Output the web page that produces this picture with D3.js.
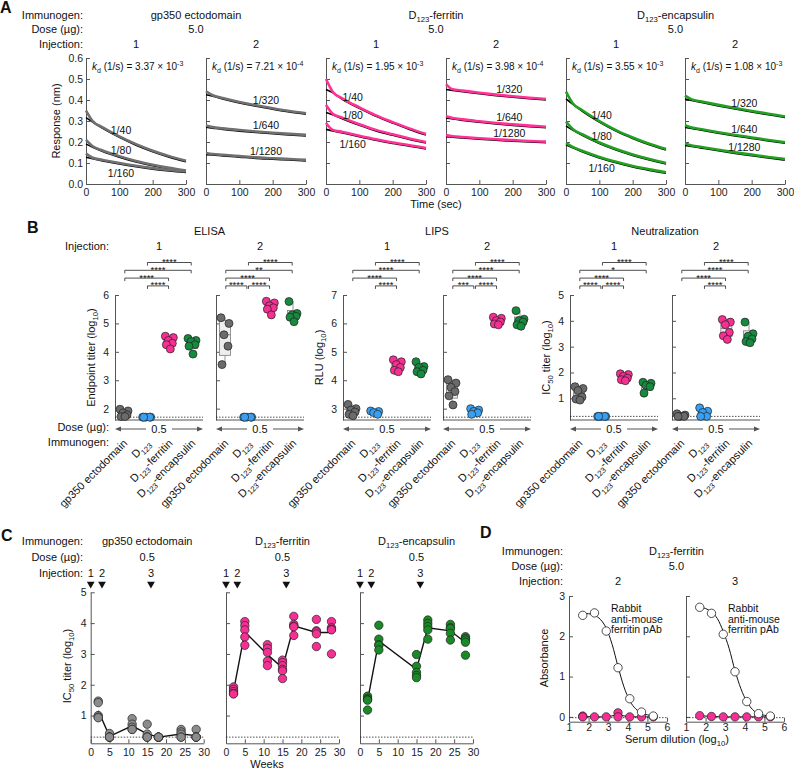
<!DOCTYPE html>
<html>
<head>
<meta charset="utf-8">
<script src="https://cdn.jsdelivr.net/npm/d3@7"></script>
<style>
  body { margin: 0; background: #fff; }
</style>
</head>
<body>
<div id="viz-container"></div>
<script>
// ---------- data: panel A (BLI dissociation traces) ----------
const aTimes = [0, 20, 50, 100, 150, 200, 250, 300];
const aImmunogens = ["gp350 ectodomain", "D_{123}-ferritin", "D_{123}-encapsulin"];
const aDoses = ["5.0", "5.0", "5.0"];
const aInjections = ["1", "2", "1", "2", "1", "2"];
const aKdValue = [3.37, 7.21, 1.95, 3.98, 3.55, 1.08];
const aKdExp = [-3, -4, -3, -4, -3, -3];
const aDilutions = [
  ["1/40", "1/80", "1/160"], ["1/320", "1/640", "1/1280"],
  ["1/40", "1/80", "1/160"], ["1/320", "1/640", "1/1280"],
  ["1/40", "1/80", "1/160"], ["1/320", "1/640", "1/1280"]
];
// fitted response (nm) at aTimes
const aFits = [
  [[0.316, 0.295, 0.265, 0.222, 0.185, 0.154, 0.128, 0.106],
   [0.190, 0.175, 0.155, 0.128, 0.105, 0.087, 0.072, 0.059],
   [0.127, 0.120, 0.110, 0.095, 0.082, 0.071, 0.062, 0.055]],
  [[0.425, 0.418, 0.405, 0.386, 0.370, 0.356, 0.343, 0.332],
   [0.270, 0.266, 0.260, 0.252, 0.245, 0.239, 0.234, 0.229],
   [0.140, 0.138, 0.134, 0.128, 0.122, 0.118, 0.114, 0.110]],
  [[0.450, 0.435, 0.402, 0.360, 0.322, 0.290, 0.260, 0.233],
   [0.340, 0.330, 0.310, 0.280, 0.253, 0.232, 0.212, 0.195],
   [0.260, 0.253, 0.243, 0.225, 0.208, 0.193, 0.180, 0.167]],
  [[0.450, 0.446, 0.440, 0.430, 0.421, 0.413, 0.406, 0.400],
   [0.313, 0.310, 0.303, 0.294, 0.286, 0.279, 0.273, 0.268],
   [0.225, 0.223, 0.219, 0.213, 0.208, 0.204, 0.200, 0.197]],
  [[0.406, 0.380, 0.345, 0.295, 0.252, 0.217, 0.187, 0.162],
   [0.276, 0.257, 0.231, 0.193, 0.162, 0.136, 0.114, 0.095],
   [0.186, 0.172, 0.152, 0.124, 0.101, 0.081, 0.065, 0.051]],
  [[0.405, 0.398, 0.388, 0.372, 0.357, 0.343, 0.330, 0.317],
   [0.270, 0.264, 0.256, 0.242, 0.229, 0.217, 0.205, 0.194],
   [0.184, 0.179, 0.171, 0.158, 0.146, 0.135, 0.124, 0.114]]
];
// measured trace value at t = 0 (the small spike above the fit)
const aSpikes = [[0.345, 0.205, 0.140], [0.437, 0.274, 0.143], [0.495, 0.371, 0.286],
                 [0.471, 0.318, 0.228], [0.435, 0.292, 0.190], [0.416, 0.275, 0.188]];
const aLabelT = [105, 180, 80, 190, 107, 178];

// ---------- data: panel B (ELISA / LIPS / neutralization) ----------
const bAssays = ["ELISA", "LIPS", "Neutralization"];
const bGroups = ["gp350 ectodomain", "D_{123}", "D_{123}-ferritin", "D_{123}-encapsulin"];
const bInjections = ["1", "2", "1", "2", "1", "2"];
const elisa1 = [[1.98, 1.92, 1.85, 1.78, 1.72, 1.72], [1.7, 1.7, 1.7, 1.7, 1.7],
                [4.55, 4.5, 4.4, 4.3, 4.25, 4.1], [4.47, 4.4, 4.36, 4.25, 4.2, 3.92]];
const elisa2 = [[5.2, 5.0, 4.6, 4.2, 3.55], [1.7, 1.7, 1.7, 1.7, 1.7],
                [5.78, 5.72, 5.62, 5.55, 5.5, 5.3], [5.77, 5.35, 5.3, 5.25, 5.22, 5.06]];
const lips1 = [[3.15, 3.0, 2.95, 2.88, 2.8, 2.75], [2.92, 2.9, 2.86, 2.8],
               [4.72, 4.65, 4.55, 4.45, 4.35, 4.3], [4.65, 4.48, 4.45, 4.35, 4.3, 4.22]];
const lips2 = [[4.02, 3.9, 3.75, 3.6, 3.45, 3.13], [3.0, 2.95, 2.9, 2.85, 2.8],
               [6.22, 6.18, 6.1, 6.05, 5.98, 5.95], [6.45, 6.15, 6.1, 6.05, 5.95, 5.9]];
const neut1 = [[1.45, 1.38, 1.3, 1.05, 0.97, 0.93], [0.3, 0.3, 0.3, 0.3, 0.3],
               [1.95, 1.92, 1.85, 1.78, 1.72, 1.68], [1.62, 1.58, 1.5, 1.45, 1.2]];
const neut2 = [[0.4, 0.35, 0.3, 0.3, 0.3], [0.63, 0.5, 0.45, 0.3, 0.3],
               [4.05, 3.95, 3.85, 3.55, 3.42, 3.28], [3.95, 3.5, 3.4, 3.3, 3.2, 3.15]];
const bDomains = [[1.6, 6], [2.6, 7], [0.16, 5]];
const bTicks = [[2, 3, 4, 5, 6], [3, 4, 5, 6, 7], [1, 2, 3, 4, 5]];
const bLod = [1.7, 2.7, 0.3];
const bYTitles = ["Endpoint titer (log_{10})", "RLU (log_{10})", "IC_{50} titer (log_{10})"];
// [row, group from, group to, stars]; row 0 is the top row
const bStats = [
  [[0, 1, 3, "****"], [1, 0, 3, "****"], [2, 0, 2, "****"], [3, 1, 2, "****"]],
  [[0, 1, 3, "****"], [1, 0, 3, "**"], [2, 0, 2, "****"], [3, 0, 1, "****"], [3, 1, 2, "****"]],
  [[0, 1, 3, "****"], [1, 0, 3, "****"], [2, 0, 2, "****"], [3, 1, 2, "****"]],
  [[0, 1, 3, "****"], [1, 0, 3, "****"], [2, 0, 2, "****"], [3, 0, 1, "***"], [3, 1, 2, "****"]],
  [[0, 1, 3, "****"], [1, 0, 3, "*"], [2, 0, 2, "****"], [3, 0, 1, "****"], [3, 1, 2, "****"]],
  [[0, 1, 3, "****"], [1, 0, 3, "****"], [2, 0, 2, "****"], [3, 1, 2, "****"]]
];

// ---------- data: panel C (neutralization over time) ----------
const cImmunogens = ["gp350 ectodomain", "D_{123}-ferritin", "D_{123}-encapsulin"];
const cWeeks = [2, 5, 11, 15, 18, 24, 28];
const cInjWeeks = [0, 3, 16];
const cGp350 = [[1.47, 1.42, 1.0, 0.95, 0.93], [0.42, 0.3, 0.3, 0.3, 0.3],
                [0.9, 0.72, 0.62, 0.55, 0.55], [0.72, 0.4, 0.3, 0.3, 0.3],
                [0.3, 0.3, 0.3, 0.3, 0.3], [0.55, 0.47, 0.4, 0.3, 0.3],
                [0.55, 0.3, 0.3, 0.3, 0.3]];
const cFerritin = [[1.93, 1.85, 1.78, 1.72, 1.7], [4.05, 3.92, 3.78, 3.55, 3.28],
                   [3.3, 3.18, 3.05, 2.77, 2.62], [2.8, 2.72, 2.62, 2.5, 2.45, 2.2],
                   [4.22, 3.96, 3.9, 3.88, 3.6], [4.12, 3.75, 3.72, 3.65, 3.24],
                   [4.05, 3.85, 3.8, 3.78, 3.0]];
const cEncapsulin = [[1.63, 1.56, 1.52, 1.5, 1.18], [3.93, 3.48, 3.3, 3.28, 3.13],
                     [], [2.98, 2.6, 2.4, 2.3, 2.23],
                     [4.1, 3.99, 3.89, 3.78, 3.48], [3.96, 3.85, 3.82, 3.67, 3.45],
                     [3.56, 3.5, 3.45, 3.38, 2.96]];

// ---------- data: panel D (anti-ferritin ELISA) ----------
const dInjections = ["2", "3"];
const dDilution = [1.7, 2.3, 2.9, 3.5, 4.1, 4.7, 5.3];
const dRabbit2 = [2.52, 2.58, 2.13, 1.22, 0.45, 0.12, 0.02];
const dRabbit3 = [2.72, 2.57, 2.05, 1.12, 0.38, 0.08, 0.02];
const dFitX = [1.7, 2.0, 2.3, 2.6, 2.9, 3.2, 3.5, 3.8, 4.1, 4.4, 4.7, 5.0, 5.3];
const dFit2 = [2.57, 2.56, 2.52, 2.42, 2.2, 1.8, 1.25, 0.75, 0.4, 0.2, 0.1, 0.05, 0.02];
const dFit3 = [2.72, 2.69, 2.6, 2.44, 2.12, 1.7, 1.15, 0.7, 0.38, 0.18, 0.08, 0.04, 0.01];
const dMouse2 = [[0.02, 0.0], [0.0], [0.0], [0.1, 0.0], [0.0], [0.0], [0.0]];
const dMouse3 = [[0.03], [0.01], [0.0], [0.0], [0.0], [0.0], [0.0]];

// ---------- drawing ----------
const FONT = '"Liberation Sans", Arial, Helvetica, sans-serif';
const AXIS = "#555";
const immColors = ["#707070", "#ff3096", "#22a022"];
const bColors = ["#6b6b6b", "#3a9ff0", "#f62f93", "#168a3e"];
const cColors = ["#8c8c8c", "#f52f93", "#198a25"];

const svg = d3.select("#viz-container").append("svg")
  .attr("width", 794).attr("height", 771)
  .attr("font-family", FONT);

// text with _{sub}, ^{sup}, ~{italic}
function rich(t, str, fs) {
  const parts = str.split(/([_^~]\{[^}]*\})/).filter(s => s.length);
  let shift = 0;
  parts.forEach(p => {
    let target = 0, s = p, size = fs, italic = false;
    if (p.startsWith("_{")) { target = fs * 0.3; s = p.slice(2, -1); size = fs * 0.7; }
    else if (p.startsWith("^{")) { target = -fs * 0.4; s = p.slice(2, -1); size = fs * 0.7; }
    else if (p.startsWith("~{")) { s = p.slice(2, -1); italic = true; }
    const ts = t.append("tspan").attr("dy", target - shift).attr("font-size", size).text(s);
    if (italic) ts.attr("font-style", "italic");
    shift = target;
  });
}

function txt(x, y, str, o) {
  o = o || {};
  const fs = o.fs || 11;
  const t = svg.append("text")
    .attr("x", x).attr("y", y)
    .attr("font-size", fs)
    .attr("text-anchor", o.anchor || "start")
    .attr("fill", "#111");
  if (o.rot) t.attr("transform", `rotate(${o.rot},${x},${y})`);
  if (o.bold) t.attr("font-weight", "bold");
  rich(t, str, fs);
  return t;
}

function axisStyle(g) {
  g.attr("font-family", FONT).attr("font-size", 10.5);
  g.selectAll(".domain").attr("stroke", AXIS);
  g.selectAll(".tick line").attr("stroke", AXIS);
  g.selectAll(".tick text").attr("fill", "#222");
}

// panel letters
txt(0, 13, "A", { fs: 16, bold: true });
txt(27, 233, "B", { fs: 16, bold: true });
txt(1, 541, "C", { fs: 16, bold: true });
txt(480, 538, "D", { fs: 16, bold: true });

// ===== Panel A =====
const aX0 = [86, 206, 326, 446, 566, 685], aW = 100;
const aY = d3.scaleLinear().domain([0, 0.6]).range([184, 58]);
const smooth = d3.line().curve(d3.curveMonotoneX);

txt(83, 18.5, "Immunogen:", { anchor: "end" });
txt(83, 33, "Dose (µg):", { anchor: "end" });
txt(83, 48, "Injection:", { anchor: "end" });
aImmunogens.forEach((name, k) => {
  const cx = (aX0[2 * k] + aX0[2 * k + 1] + aW) / 2;
  txt(cx, 18.5, name, { anchor: "middle" });
  txt(cx, 33, aDoses[k], { anchor: "middle" });
});
txt(60, 121, "Response (nm)", { anchor: "middle", rot: -90 });
txt(436, 208, "Time (sec)", { anchor: "middle" });

aX0.forEach((x0, i) => {
  const x = d3.scaleLinear().domain([0, 300]).range([x0, x0 + aW]);
  const col = immColors[Math.floor(i / 2)];
  txt(x0 + aW / 2, 48, aInjections[i], { anchor: "middle" });

  svg.append("g").attr("transform", `translate(${x0},0)`)
    .call(d3.axisLeft(aY).tickValues([0, 0.1, 0.2, 0.3, 0.4, 0.5, 0.6])
      .tickSizeInner(-4).tickSizeOuter(0).tickPadding(3)
      .tickFormat(i === 0 ? d3.format(".1f") : () => ""))
    .call(axisStyle);
  svg.append("g").attr("transform", "translate(0,184)")
    .call(d3.axisBottom(x).tickValues([0, 100, 200, 300])
      .tickSizeInner(-4).tickSizeOuter(0).tickPadding(5))
    .call(axisStyle);

  aFits[i].forEach((fit, j) => {
    const fitPts = aTimes.map((t, k) => [x(t), aY(fit[k])]);
    const trPts = [[x(0), aY(aSpikes[i][j])]].concat(fitPts.slice(1));
    svg.append("path").attr("d", smooth(fitPts))
      .attr("fill", "none").attr("stroke", "#000").attr("stroke-width", 1.6);
    svg.append("path").attr("d", smooth(trPts))
      .attr("fill", "none").attr("stroke", col).attr("stroke-width", 2.6)
      .attr("transform", "translate(0,-1)");
    const at = d3.scaleLinear().domain(aTimes).range(fit);
    const lt = aLabelT[i];
    const below = (j === 2 && i % 2 === 0);
    txt(x(lt), aY(at(lt)) + (below ? 13 : -4), aDilutions[i][j], { anchor: "middle", fs: 10.5 });
  });

  txt(x0 + 6, 70, `~{k}_{d} (1/s) = ${aKdValue[i].toFixed(2)} × 10^{${aKdExp[i]}}`, { fs: 10 });
});

// ===== Panel B =====
const bX0 = [115, 216, 343, 443, 570, 672], bW = 88;
const bData = [elisa1, elisa2, lips1, lips2, neut1, neut2];
const bBottom = 420, bTop = 295;
const jitter = [-4, 4, -1, 3, -3, 1];
const bRowY = [262.5, 270.3, 278.1, 285.9];

txt(109, 249.5, "Injection:", { anchor: "end" });
txt(109, 431, "Dose (µg):", { anchor: "end" });
txt(109, 446, "Immunogen:", { anchor: "end" });

// GraphPad-style quartile
function quart(sorted, p) {
  const n = sorted.length, pos = (n + 1) * p;
  if (pos <= 1) return sorted[0];
  if (pos >= n) return sorted[n - 1];
  const lo = Math.floor(pos), f = pos - lo;
  return sorted[lo - 1] + f * (sorted[lo] - sorted[lo - 1]);
}

bAssays.forEach((name, a) => {
  const cx = (bX0[2 * a] + bX0[2 * a + 1] + bW) / 2;
  txt(cx, 235, name, { anchor: "middle" });
  txt(bX0[2 * a] - 20, (bTop + bBottom) / 2, bYTitles[a], { anchor: "middle", rot: -90 });
});

bX0.forEach((x0, i) => {
  const a = Math.floor(i / 2);
  const y = d3.scaleLinear().domain(bDomains[a]).range([bBottom, bTop]);
  const x = d3.scalePoint().domain(d3.range(4)).range([x0 + 9, x0 + 77]);
  txt(x0 + bW / 2, 249.5, bInjections[i], { anchor: "middle" });

  svg.append("g").attr("transform", `translate(${x0},0)`)
    .call(d3.axisLeft(y).tickValues(bTicks[a]).tickSizeInner(-4).tickSizeOuter(0).tickPadding(6)
      .tickFormat(i % 2 === 0 ? d3.format("d") : () => ""))
    .call(axisStyle);
  svg.append("line").attr("x1", x0).attr("x2", x0 + bW).attr("y1", bBottom).attr("y2", bBottom)
    .attr("stroke", AXIS);
  svg.append("line").attr("x1", x0).attr("x2", x0 + bW)
    .attr("y1", y(bLod[a])).attr("y2", y(bLod[a]))
    .attr("stroke", "#222").attr("stroke-width", 0.8).attr("stroke-dasharray", "1.5,1.5");

  bData[i].forEach((vals, g) => {
    const s = vals.slice().sort(d3.ascending);
    const q1 = quart(s, 0.25), q3 = quart(s, 0.75), med = d3.median(s);
    const cx = x(g), bw = 11;
    const box = svg.append("g").attr("stroke", "#888").attr("stroke-width", 0.9);
    box.append("line").attr("x1", cx).attr("x2", cx).attr("y1", y(s[s.length - 1])).attr("y2", y(q3));
    box.append("line").attr("x1", cx).attr("x2", cx).attr("y1", y(q1)).attr("y2", y(s[0]));
    box.append("rect").attr("x", cx - bw / 2).attr("width", bw)
      .attr("y", y(q3)).attr("height", Math.max(0.5, y(q1) - y(q3))).attr("fill", "#eeeeee");
    box.append("line").attr("x1", cx - bw / 2).attr("x2", cx + bw / 2).attr("y1", y(med)).attr("y2", y(med));
    svg.append("g").selectAll("circle").data(vals).join("circle")
      .attr("cx", (d, k) => cx + jitter[k % jitter.length])
      .attr("cy", d => y(d)).attr("r", 4)
      .attr("fill", bColors[g]).attr("stroke", "#222").attr("stroke-width", 0.7);
  });

  // significance brackets
  bStats[i].forEach(([row, g1, g2, stars]) => {
    const ly = bRowY[row];
    const xa = x(g1) + 0.8, xb = x(g2) - 0.8;
    svg.append("path")
      .attr("d", `M${xa},${ly + 3}V${ly}H${xb}V${ly + 3}`)
      .attr("fill", "none").attr("stroke", "#222").attr("stroke-width", 0.8);
    svg.append("text").attr("x", (xa + xb) / 2).attr("y", ly + 2.5)
      .attr("text-anchor", "middle").attr("font-size", 9.5).attr("fill", "#111").text(stars);
  });

  // dose arrow
  const mid = x0 + bW / 2, ay = 429;
  const arr = svg.append("g").attr("stroke", AXIS).attr("fill", AXIS);
  arr.append("line").attr("x1", x0 + 4).attr("x2", mid - 13).attr("y1", ay).attr("y2", ay);
  arr.append("line").attr("x1", mid + 13).attr("x2", x0 + bW - 4).attr("y1", ay).attr("y2", ay);
  arr.append("path").attr("d", `M${x0},${ay}l6,-2.5v5z`).attr("stroke", "none");
  arr.append("path").attr("d", `M${x0 + bW},${ay}l-6,-2.5v5z`).attr("stroke", "none");
  txt(mid, ay + 4, "0.5", { anchor: "middle" });

  bGroups.forEach((gname, g) => {
    txt(x(g) + 4, 444, gname, { anchor: "end", rot: -45 });
  });
});

// ===== Panel C =====
const cX0 = [90.7, 226, 360], cW = 113;
const cY = d3.scaleLinear().domain([0.1, 5]).range([743.3, 592.3]);
const cSets = [cGp350, cFerritin, cEncapsulin];

txt(83, 544.5, "Immunogen:", { anchor: "end" });
txt(83, 561, "Dose (µg):", { anchor: "end" });
txt(83, 576.5, "Injection:", { anchor: "end" });
txt(71, 666, "IC_{50} titer (log_{10})", { anchor: "middle", rot: -90 });
txt(267, 768, "Weeks", { anchor: "middle" });

cX0.forEach((x0, p) => {
  const x = d3.scaleLinear().domain([0, 30]).range([x0, x0 + cW]);
  const hx = x0 + cW / 2;
  txt(hx, 544.5, cImmunogens[p], { anchor: "middle" });
  txt(hx, 561, "0.5", { anchor: "middle" });
  cInjWeeks.forEach((w, k) => {
    txt(x(w), 576.5, String(k + 1), { anchor: "middle" });
    svg.append("path").attr("d", d3.symbol(d3.symbolTriangle).size(26)())
      .attr("transform", `translate(${x(w)},584) rotate(180)`).attr("fill", "#111");
  });

  svg.append("g").attr("transform", `translate(${x0},0)`)
    .call(d3.axisLeft(cY).tickValues([1, 2, 3, 4, 5]).tickSizeInner(-4).tickSizeOuter(0).tickPadding(4)
      .tickFormat(p === 0 ? d3.format("d") : () => ""))
    .call(axisStyle);
  svg.append("g").attr("transform", "translate(0,743.3)")
    .call(d3.axisBottom(x).tickValues([0, 5, 10, 15, 20, 25, 30]).tickSizeInner(-4).tickSizeOuter(0).tickPadding(5))
    .call(axisStyle);
  svg.append("line").attr("x1", x0).attr("x2", x0 + cW).attr("y1", cY(0.3)).attr("y2", cY(0.3))
    .attr("stroke", "#222").attr("stroke-width", 0.8).attr("stroke-dasharray", "1.5,1.5");

  const data = cSets[p];
  const means = cWeeks.map((w, k) => [w, data[k]]).filter(d => d[1].length)
    .map(d => [x(d[0]), cY(d3.mean(d[1]))]);
  svg.append("path").attr("d", d3.line()(means)).attr("fill", "none")
    .attr("stroke", "#111").attr("stroke-width", 1.4);
  cWeeks.forEach((w, k) => {
    svg.append("g").selectAll("circle").data(data[k]).join("circle")
      .attr("cx", x(w)).attr("cy", d => cY(d)).attr("r", 4.2)
      .attr("fill", cColors[p]).attr("stroke", "#222").attr("stroke-width", 0.7);
  });
});

// ===== Panel D =====
const dX0 = [569, 686], dW = 98;
const dY = d3.scaleLinear().domain([-0.12, 3]).range([721.7, 596]);
const dRabbit = [dRabbit2, dRabbit3], dFit = [dFit2, dFit3], dMouse = [dMouse2, dMouse3];

txt(563, 554.5, "Immunogen:", { anchor: "end" });
txt(563, 570, "Dose (µg):", { anchor: "end" });
txt(563, 584.5, "Injection:", { anchor: "end" });
txt((dX0[0] + dX0[1] + dW) / 2, 554.5, "D_{123}-ferritin", { anchor: "middle" });
txt((dX0[0] + dX0[1] + dW) / 2, 570, "5.0", { anchor: "middle" });
txt(548, 658, "Absorbance", { anchor: "middle", rot: -90 });
txt(677, 743, "Serum dilution (log_{10})", { anchor: "middle" });

dX0.forEach((x0, p) => {
  const x = d3.scaleLinear().domain([1, 6]).range([x0, x0 + dW]);
  txt(x0 + dW / 2, 584.5, dInjections[p], { anchor: "middle" });
  svg.append("g").attr("transform", `translate(${x0},0)`)
    .call(d3.axisLeft(dY).tickValues([0, 1, 2, 3]).tickSizeInner(-4).tickSizeOuter(0).tickPadding(4)
      .tickFormat(p === 0 ? d3.format("d") : () => ""))
    .call(axisStyle);
  svg.append("g").attr("transform", "translate(0,721.7)")
    .call(d3.axisBottom(x).tickValues([1, 2, 3, 4, 5, 6]).tickFormat(d3.format("d"))
      .tickSizeInner(-4).tickSizeOuter(0).tickPadding(2))
    .call(axisStyle);
  svg.append("line").attr("x1", x0).attr("x2", x0 + dW).attr("y1", dY(-0.02)).attr("y2", dY(-0.02))
    .attr("stroke", "#222").attr("stroke-width", 0.8).attr("stroke-dasharray", "1.5,1.5");

  // rabbit control
  svg.append("path").attr("d", smooth(dFitX.map((v, k) => [x(v), dY(dFit[p][k])])))
    .attr("fill", "none").attr("stroke", "#111").attr("stroke-width", 1);
  // mouse sera
  svg.append("path").attr("d", d3.line()(dDilution.map((v, k) => [x(v), dY(d3.mean(dMouse[p][k]))])))
    .attr("fill", "none").attr("stroke", "#111").attr("stroke-width", 1);
  dDilution.forEach((v, k) => {
    svg.append("g").selectAll("circle").data(dMouse[p][k]).join("circle")
      .attr("cx", x(v)).attr("cy", d => dY(d)).attr("r", 4.2)
      .attr("fill", "#f52f93").attr("stroke", "#222").attr("stroke-width", 0.7);
  });
  svg.append("g").selectAll("circle").data(dRabbit[p]).join("circle")
    .attr("cx", (d, k) => x(dDilution[k])).attr("cy", d => dY(d)).attr("r", 4.2)
    .attr("fill", "#fff").attr("stroke", "#222").attr("stroke-width", 0.8);

  ["Rabbit", "anti-mouse", "ferritin pAb"].forEach((s, k) => {
    txt(x0 + 42, 612 + k * 10.5, s, { fs: 10.5 });
  });
});
</script>
</body>
</html>
